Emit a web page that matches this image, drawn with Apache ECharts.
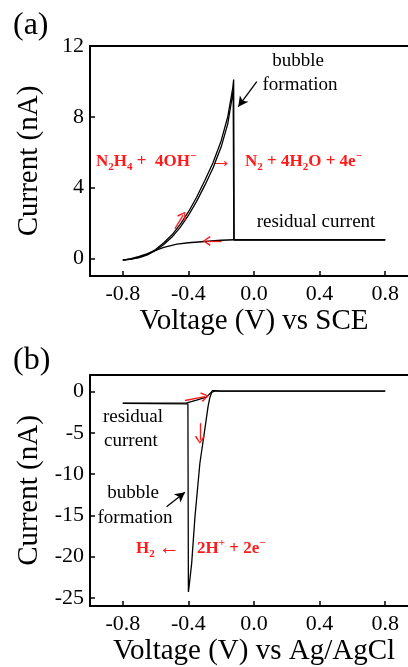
<!DOCTYPE html>
<html>
<head>
<meta charset="UTF-8">
<title>CV</title>
<style>
  html, body { margin: 0; padding: 0; overflow: hidden; background: #fff; }
  #main { width: 430px; height: 667px; }
</style>
</head>
<body>
<div id="main"></div>
<script src="https://cdn.jsdelivr.net/npm/echarts@6/dist/echarts.min.js"></script>
<script>
// (a) hydrazine oxidation, vs SCE
var aVolt1 = [-0.80, -0.75, -0.70, -0.65, -0.60, -0.55, -0.50, -0.45, -0.40, -0.35, -0.30, -0.25, -0.20, -0.16, -0.13, -0.124, -0.121, 0.80];
var aCurr1 = [-0.10, -0.05, 0.05, 0.22, 0.50, 0.88, 1.33, 1.92, 2.62, 3.45, 4.40, 5.40, 6.65, 8.00, 9.60, 10.10, 1.05, 1.05];
var aVolt2 = [-0.80, -0.75, -0.70, -0.65, -0.60, -0.55, -0.50, -0.45, -0.40, -0.35, -0.30, -0.25, -0.20, -0.16, -0.135, -0.127, -0.123, 0.80];
var aCurr2 = [-0.10, -0.05, 0.04, 0.19, 0.44, 0.78, 1.20, 1.75, 2.42, 3.22, 4.12, 5.10, 6.30, 7.60, 9.00, 9.50, 1.05, 1.05];
var aVoltBack = [0.80, -0.12, -0.20, -0.30, -0.40, -0.47, -0.55, -0.60, -0.65, -0.70, -0.75, -0.80];
var aCurrBack = [1.05, 1.05, 1.02, 0.95, 0.88, 0.80, 0.62, 0.45, 0.27, 0.11, -0.02, -0.10];

// (b) hydrogen evolution, vs Ag/AgCl
var bVoltCath = [0.80, -0.20, -0.235, -0.255, -0.27, -0.28, -0.30, -0.33, -0.36, -0.38, -0.395, -0.400, -0.403, -0.80];
var bCurrCath = [0.05, 0.05, 0.10, 0.10, -0.80, -1.80, -4.60, -8.70, -15.20, -20.80, -23.50, -24.30, -1.50, -1.45];
var bVoltAnod = [-0.80, -0.41, -0.35, -0.29, -0.26, -0.24, 0.80];
var bCurrAnod = [-1.40, -1.38, -1.05, -0.68, -0.10, 0.05, 0.05];

var xTicks = [-0.8, -0.4, 0.0, 0.4, 0.8];
var aYTicks = [0, 4, 8, 12];
var bYTicks = [-25, -20, -15, -10, -5, 0];

// annotation arrows [x1, y1, x2, y2]
var aRedArrows = [[-0.482, 1.68, -0.432, 2.44], [-0.197, 0.98, -0.289, 0.98]];
var aBlackArrow = [0.017, 9.99, -0.096, 8.57];
var bRedArrows = [[-0.421, -1.09, -0.299, -0.61], [-0.33, -3.84, -0.33, -5.86]];
var bBlackArrow = [-0.533, -13.96, -0.421, -12.2];

function pairs(xs, ys) {
  return xs.map(function (x, i) { return [x, ys[i]]; });
}
// open chevron head for the red arrows, filled head for the black ones
var chevron = 'path://M5,0 L10,9 L8.6,10 L5,2.6 L1.4,10 L0,9 Z';
function arrowItem(a, color, open) {
  return [
    { coord: [a[0], a[1]], symbol: 'none', lineStyle: { color: color, width: 1.3, type: 'solid' } },
    { coord: [a[2], a[3]], symbol: open ? chevron : 'arrow', symbolSize: open ? [10, 8] : [8, 10],
      itemStyle: { color: color } }
  ];
}

var serif = 'Liberation Serif';
var red = '#ff1a1a';

function xAxisFor(idx, name) {
  return {
    type: 'value', gridIndex: idx, min: -1.0, max: 1.0,
    name: name, nameLocation: 'middle', nameGap: 31,
    nameTextStyle: { fontFamily: serif, fontSize: 29, color: '#000' },
    axisLine: { onZero: false, lineStyle: { color: '#000', width: 2 } },
    axisTick: { inside: true, length: 5, customValues: xTicks, lineStyle: { color: '#000', width: 1.5 } },
    axisLabel: { customValues: xTicks, fontFamily: serif, fontSize: 22, color: '#000', margin: 7,
      formatter: function (v) { return v.toFixed(1); } },
    splitLine: { show: false }
  };
}
function yAxisFor(idx, min, max, ticks) {
  return {
    type: 'value', gridIndex: idx, min: min, max: max,
    name: 'Current (nA)', nameLocation: 'middle', nameGap: 46,
    nameTextStyle: { fontFamily: serif, fontSize: 29, color: '#000' },
    axisLine: { onZero: false, lineStyle: { color: '#000', width: 2 } },
    axisTick: { inside: true, length: 5, customValues: ticks, lineStyle: { color: '#000', width: 1.5 } },
    axisLabel: { customValues: ticks, fontFamily: serif, fontSize: 22, color: '#000', margin: 6,
      formatter: function (v) { return String(v); } },
    splitLine: { show: false }
  };
}

function rich(text, x, y, size) {
  return {
    type: 'text', left: x, top: y, silent: true,
    style: {
      text: text, fill: red, font: 'bold ' + size + 'px ' + serif,
      rich: {
        n: { fontFamily: serif, fontWeight: 'bold', fontSize: size, color: red, verticalAlign: 'middle', lineHeight: 22 },
        d: { fontFamily: serif, fontWeight: 'bold', fontSize: 11, color: red, verticalAlign: 'bottom', lineHeight: 22 },
        u: { fontFamily: serif, fontWeight: 'bold', fontSize: 11, color: red, verticalAlign: 'top', lineHeight: 22 },
        a: { fontFamily: serif, fontWeight: 'normal', fontSize: 21, color: red, verticalAlign: 'middle', lineHeight: 22 }
      }
    }
  };
}
function plain(text, x, y, size, align) {
  return {
    type: 'text', x: x, y: y, silent: true,
    style: { text: text, fill: '#000', font: size + 'px ' + serif, textAlign: align || 'center', textVerticalAlign: 'middle' }
  };
}

var chart = echarts.init(document.getElementById('main'), null, { renderer: 'canvas' });

var lineStyle = { color: '#000', width: 1.3 };

chart.setOption({
  animation: false,
  backgroundColor: '#fff',
  grid: [
    { left: 90, top: 46, width: 328, height: 230, show: true, borderColor: '#000', borderWidth: 2 },
    { left: 90, top: 375, width: 328, height: 231, show: true, borderColor: '#000', borderWidth: 2 }
  ],
  xAxis: [xAxisFor(0, 'Voltage (V) vs SCE'), xAxisFor(1, 'Voltage (V) vs Ag/AgCl')],
  yAxis: [yAxisFor(0, -1, 12, aYTicks), yAxisFor(1, -26, 2, bYTicks)],
  series: [
    { type: 'line', xAxisIndex: 0, yAxisIndex: 0, showSymbol: false, lineStyle: lineStyle, data: pairs(aVolt1, aCurr1),
      markLine: { silent: true, label: { show: false },
        data: aRedArrows.map(function (a) { return arrowItem(a, red, true); }).concat([arrowItem(aBlackArrow, '#000', false)]) } },
    { type: 'line', xAxisIndex: 0, yAxisIndex: 0, showSymbol: false, lineStyle: lineStyle, data: pairs(aVolt2, aCurr2) },
    { type: 'line', xAxisIndex: 0, yAxisIndex: 0, showSymbol: false, lineStyle: lineStyle, data: pairs(aVoltBack, aCurrBack) },
    { type: 'line', xAxisIndex: 1, yAxisIndex: 1, showSymbol: false, lineStyle: lineStyle, data: pairs(bVoltCath, bCurrCath),
      markLine: { silent: true, label: { show: false },
        data: bRedArrows.map(function (a) { return arrowItem(a, red, true); }).concat([arrowItem(bBlackArrow, '#000', false)]) } },
    { type: 'line', xAxisIndex: 1, yAxisIndex: 1, showSymbol: false, lineStyle: lineStyle, data: pairs(bVoltAnod, bCurrAnod) }
  ],
  graphic: [
    plain('(a)', 13, 26, 32, 'left'),
    plain('(b)', 13, 361, 32, 'left'),
    plain('bubble', 298, 61, 19),
    plain('formation', 300, 85, 19),
    plain('residual current', 316, 222, 19),
    plain('residual', 133, 417, 19),
    plain('current', 131, 441, 19),
    plain('bubble', 133, 493, 19),
    plain('formation', 135, 518, 19),
    rich('{n|N}{d|2}{n|H}{d|4}{n| +  4OH}{u|\u2212}', 96, 151, 17),
    rich('{a|\u2192}', 211, 151, 17),
    rich('{n|N}{d|2}{n| + 4H}{d|2}{n|O + 4e}{u|\u2212}', 245, 151, 17),
    rich('{n|H}{d|2}{n| }{a|\u2190}', 136, 538, 17),
    rich('{n|2H}{u|+}{n| + 2e}{u|\u2212}', 197, 538, 17)
  ]
});
</script>
</body>
</html>
